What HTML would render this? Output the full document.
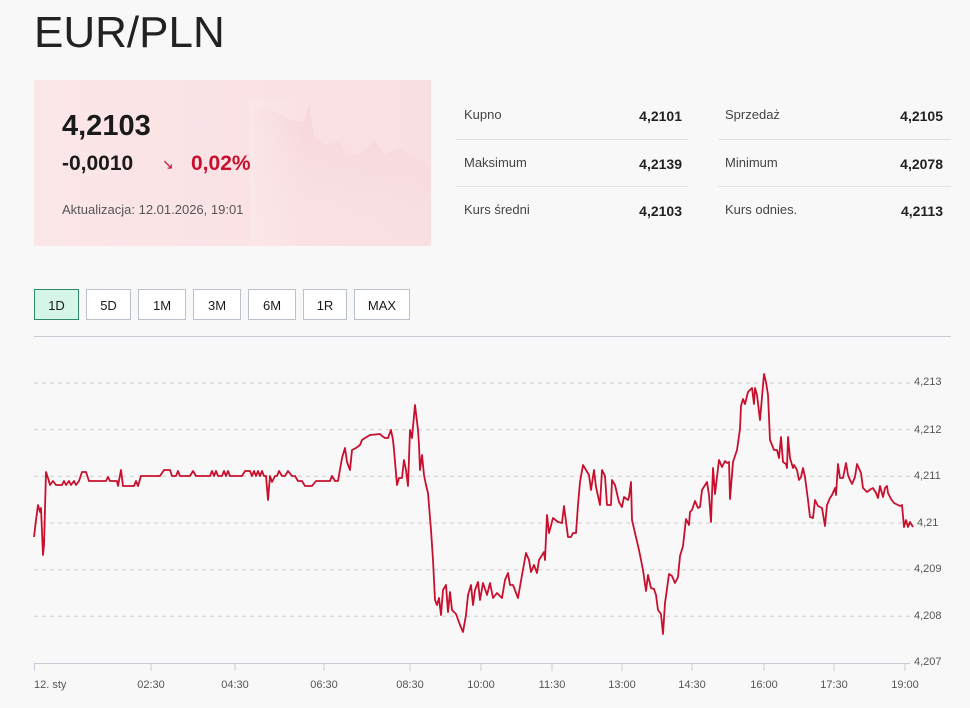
<!DOCTYPE html>
<html><head><meta charset="utf-8"><style>
body{margin:0;width:970px;height:708px;background:#f8f8f8;font-family:"Liberation Sans",sans-serif;position:relative;overflow:hidden;color:#1a1a1a}
.a{position:absolute}
h1{position:absolute;left:34px;top:8px;margin:0;font-weight:400;font-size:44px;color:#222}
.card{left:34px;top:80px;width:397px;height:166px;background:linear-gradient(90deg,#fbe6e8,#f9dfe2);}
.btn{position:absolute;top:289px;height:31px;border:1px solid #b9c2cc;background:#fff;font-size:13px;line-height:31px;text-align:center;box-sizing:border-box}
.lab{font-size:13px;color:#444}
.val{font-size:14px;font-weight:700;color:#222;text-align:right}
.hr{height:1px;background:#e2e2e2}
</style></head><body>
<h1>EUR/PLN</h1>
<div class="a card">
<svg class="a" style="left:215px;top:20px" width="182" height="146"><defs><linearGradient id="g" x1="0" y1="0" x2="0" y2="1"><stop offset="0" stop-color="#f0c0c7" stop-opacity=".35"/><stop offset="1" stop-color="#f9dfe2" stop-opacity="0"/></linearGradient><linearGradient id="h" x1="0" y1="0" x2="1" y2="0"><stop offset="0" stop-color="#fbe6e8" stop-opacity="1"/><stop offset="0.3" stop-color="#fbe6e8" stop-opacity="0"/></linearGradient></defs><path d="M0 10 L20 8 L40 20 L55 22 L60 5 L65 35 L75 45 L90 42 L100 55 L115 52 L125 40 L135 55 L150 48 L160 55 L170 60 L182 66 L182 146 L0 146Z" fill="url(#g)"/><rect width="182" height="146" fill="url(#h)"/></svg>
<div class="a" style="left:28px;top:30px;font-size:29px;font-weight:700">4,2103</div>
<div class="a" style="left:28px;top:72px;font-size:21px;font-weight:700">-0,0010</div>
<div class="a" style="left:128px;top:76px;font-size:14px;color:#c8102e">↘</div>
<div class="a" style="left:157px;top:72px;font-size:21px;font-weight:700;color:#c8102e">0,02%</div>
<div class="a" style="left:28px;top:122px;font-size:13px;color:#555">Aktualizacja: 12.01.2026, 19:01</div>
</div>
<div class="a lab" style="left:464px;top:107px">Kupno</div><div class="a val" style="left:600px;top:108px;width:82px">4,2101</div>
<div class="a lab" style="left:725px;top:107px">Sprzedaż</div><div class="a val" style="left:860px;top:108px;width:83px">4,2105</div>
<div class="a hr" style="left:456px;top:139px;width:232px"></div><div class="a hr" style="left:718px;top:139px;width:233px"></div>
<div class="a lab" style="left:464px;top:155px">Maksimum</div><div class="a val" style="left:600px;top:156px;width:82px">4,2139</div>
<div class="a lab" style="left:725px;top:155px">Minimum</div><div class="a val" style="left:860px;top:156px;width:83px">4,2078</div>
<div class="a hr" style="left:456px;top:186px;width:232px"></div><div class="a hr" style="left:718px;top:186px;width:233px"></div>
<div class="a lab" style="left:464px;top:202px">Kurs średni</div><div class="a val" style="left:600px;top:203px;width:82px">4,2103</div>
<div class="a lab" style="left:725px;top:202px">Kurs odnies.</div><div class="a val" style="left:860px;top:203px;width:83px">4,2113</div>

<div class="btn" style="left:34px;width:45px;background:#d5f5e8;border-color:#2e8b62">1D</div>
<div class="btn" style="left:86px;width:45px">5D</div>
<div class="btn" style="left:138px;width:48px">1M</div>
<div class="btn" style="left:193px;width:48px">3M</div>
<div class="btn" style="left:248px;width:48px">6M</div>
<div class="btn" style="left:303px;width:44px">1R</div>
<div class="btn" style="left:354px;width:56px">MAX</div>
<div class="a" style="left:34px;top:336px;width:917px;height:1px;background:#c9ccd6"></div>

<svg class="a" style="left:0;top:0" width="970" height="708">
<g stroke="#ccc" stroke-dasharray="4,4" stroke-width="1">
<line x1="34" x2="910" y1="383" y2="383"/><line x1="34" x2="910" y1="429.7" y2="429.7"/><line x1="34" x2="910" y1="476.3" y2="476.3"/><line x1="34" x2="910" y1="523" y2="523"/><line x1="34" x2="910" y1="569.7" y2="569.7"/><line x1="34" x2="910" y1="616.3" y2="616.3"/>
</g>
<line x1="34" x2="910" y1="663.5" y2="663.5" stroke="#c9ccd6"/>
<g stroke="#c9ccd6"><line x1="34.5" x2="34.5" y1="663" y2="671"/><line x1="151" x2="151" y1="663" y2="671"/><line x1="235" x2="235" y1="663" y2="671"/><line x1="324" x2="324" y1="663" y2="671"/><line x1="410" x2="410" y1="663" y2="671"/><line x1="481" x2="481" y1="663" y2="671"/><line x1="552" x2="552" y1="663" y2="671"/><line x1="622" x2="622" y1="663" y2="671"/><line x1="692" x2="692" y1="663" y2="671"/><line x1="764" x2="764" y1="663" y2="671"/><line x1="834" x2="834" y1="663" y2="671"/><line x1="905" x2="905" y1="663" y2="671"/></g>
<g font-size="11" fill="#555" font-family="Liberation Sans,sans-serif">
<text x="34" y="688">12. sty</text><text x="151" y="688" text-anchor="middle">02:30</text><text x="235" y="688" text-anchor="middle">04:30</text><text x="324" y="688" text-anchor="middle">06:30</text><text x="410" y="688" text-anchor="middle">08:30</text><text x="481" y="688" text-anchor="middle">10:00</text><text x="552" y="688" text-anchor="middle">11:30</text><text x="622" y="688" text-anchor="middle">13:00</text><text x="692" y="688" text-anchor="middle">14:30</text><text x="764" y="688" text-anchor="middle">16:00</text><text x="834" y="688" text-anchor="middle">17:30</text><text x="905" y="688" text-anchor="middle">19:00</text>
<text x="914" y="385">4,213</text><text x="914" y="433">4,212</text><text x="914" y="479">4,211</text><text x="917" y="526">4,21</text><text x="914" y="572">4,209</text><text x="914" y="619">4,208</text><text x="914" y="665">4,207</text>
</g>
<polyline fill="none" stroke="#c8102e" stroke-width="1.8" stroke-linejoin="round" points="34,537 36,520 38,505 40,512 41,508 43,555 44,545 46,472 48,478 50,485 53,481 56,485 62,485 64,481 66,485 69,481 71,485 74,481 76,485 79,481 82,472 86,472 89,481 106,481 108,477 110,481 117,481 118,486 121,470 123,486 134,486 136,481 138,486 141,476 160,476 164,470 170,470 172,476 176,476 178,471 180,476 190,476 193,471 196,476 200,476 210,476 212,471 214,476 216,471 218,476 222,476 224,471 226,476 228,471 230,476 236,476 242,476 245,471 250,471 252,476 254,471 256,476 258,471 260,476 262,471 264,476 266,476 268,500 270,476 272,482 275,476 277,476 279,471 282,476 285,476 288,471 292,476 295,476 298,481 302,481 305,486 312,486 316,481 330,481 332,476 335,481 338,481 342,458 345,448 347,462 350,470 352,450 356,448 360,445 362,440 365,438 370,435 380,434 382,436 385,438 388,438 391,430 393,440 394,450 397,485 399,478 402,478 404,460 406,470 408,486 410,430 412,438 415,405 418,430 419,445 420,470 422,455 424,475 426,485 428,493 431,530 433,560 435,600 437,605 439,598 441,615 443,590 446,585 448,612 450,592 452,610 456,614 460,625 463,632 466,615 468,595 471,585 473,605 475,590 478,582 480,600 483,583 487,595 490,583 493,598 497,593 502,598 505,580 508,573 510,585 513,585 518,598 522,575 526,553 529,560 531,572 534,565 537,573 539,560 544,552 545,560 547,515 549,533 553,518 558,522 562,523 564,506 568,537 571,537 573,533 576,533 578,505 580,482 583,465 586,470 589,475 591,490 594,470 596,487 600,505 602,470 605,476 607,505 611,505 612,480 615,485 619,502 622,507 624,497 628,500 629,497 631,482 632,520 635,533 639,550 643,570 646,591 648,575 651,588 654,589 656,595 658,610 661,614 663,634 665,603 666,596 669,574 672,576 675,583 678,577 680,556 683,546 686,519 689,525 690,512 692,510 695,501 698,508 700,507 702,490 707,482 709,495 711,522 713,468 715,494 719,460 722,467 725,461 727,463 729,462 730,499 733,462 735,456 737,450 740,429 741,406 743,399 745,404 748,392 752,388 754,404 755,388 757,395 760,420 762,397 764,374 766,382 768,395 770,440 774,450 777,450 779,458 781,437 783,462 786,464 787,468 788,437 790,458 793,468 794,465 797,470 799,480 801,477 803,468 805,477 808,500 810,517 813,518 815,500 818,506 822,508 825,526 827,505 830,498 832,495 835,488 836,495 838,464 840,478 843,478 846,463 848,475 850,480 852,484 855,477 857,464 861,473 863,488 867,492 871,489 873,488 876,493 878,498 880,486 883,497 885,488 887,486 888,493 891,499 894,503 900,506 902,505 904,527 906,520 908,527 910,522 913,527"/>
</svg>
</body></html>
